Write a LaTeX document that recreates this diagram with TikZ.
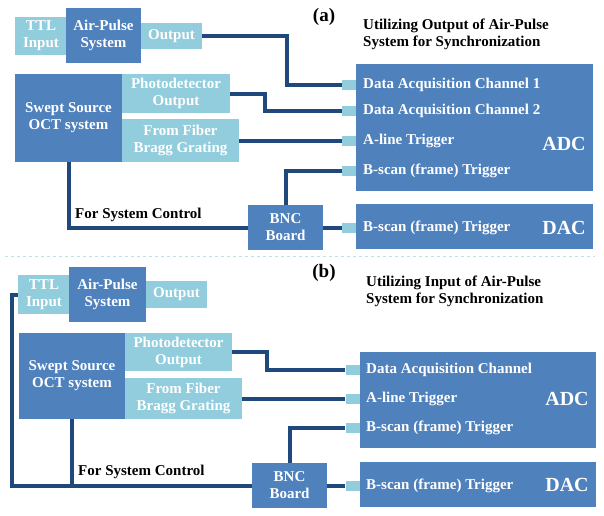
\documentclass[tikz,border=0pt]{standalone}
\usepackage{fontspec}
\setmainfont{Liberation Serif}
\definecolor{darkbox}{RGB}{79,129,189}
\definecolor{lightbox}{RGB}{146,205,221}
\definecolor{wire}{RGB}{31,73,125}
\begin{document}
\begin{tikzpicture}[x=1pt,y=-1pt,line join=miter,
	dark/.style={fill=darkbox,text=white,inner sep=0pt,align=center,font=\fontsize{15}{17}\selectfont\bfseries},
	light/.style={fill=lightbox,text=white,inner sep=0pt,align=center,font=\fontsize{15}{17}\selectfont\bfseries},
	port/.style={fill=lightbox,minimum width=14pt,minimum height=10pt,inner sep=0pt},
	lbl/.style={anchor=west,text=white,inner sep=0pt,font=\fontsize{15}{17}\selectfont\bfseries},
	big/.style={text=white,inner sep=0pt,font=\fontsize{20}{22}\selectfont\bfseries},
	wire/.style={draw=wire,line width=4pt},
	txt/.style={anchor=west,inner sep=0pt,align=left,font=\fontsize{15}{17}\selectfont\bfseries}]
	\useasboundingbox (0,0) rectangle (604,515);
	% (a)
	\node[light,minimum width=52pt,minimum height=38pt] (ttlA) at (41,36) {TTL\\Input};
	\node[dark,minimum width=75pt,minimum height=55pt] (airA) at (103.5,35.5) {Air-Pulse\\System};
	\node[light,minimum width=61pt,minimum height=26pt] (outA) at (171.5,36) {Output};
	\node[dark,minimum width=107pt,minimum height=88pt] (octA) at (68.5,118) {Swept Source\\OCT system};
	\node[light,minimum width=108pt,minimum height=39pt] (pdA) at (176,93.5) {Photodetector\\Output};
	\node[light,minimum width=117pt,minimum height=43pt] (fbgA) at (180.5,140.5) {From Fiber\\Bragg Grating};
	\node[dark,minimum width=75pt,minimum height=45pt] (bncA) at (285.5,227.5) {BNC\\Board};
	\node[dark,minimum width=237pt,minimum height=127pt] (adcA) at (474.5,127.5) {};
	\node[dark,minimum width=237pt,minimum height=45pt] (dacA) at (474.5,226.5) {};
	\node[port] (pA1) at (349,85) {};
	\node[port] (pA2) at (349,111) {};
	\node[port] (pA3) at (349,140.5) {};
	\node[port] (pA4) at (349,171) {};
	\node[port] (pA5) at (349,227.5) {};
	\node[lbl] (lA1) at (363,85) {Data Acquisition Channel 1};
	\node[lbl] (lA2) at (363,111) {Data Acquisition Channel 2};
	\node[lbl] (lA3) at (363,140.5) {A-line Trigger};
	\node[lbl] (lA4) at (363,171) {B-scan (frame) Trigger};
	\node[lbl] (lA5) at (363,227.5) {B-scan (frame) Trigger};
	\node[big] (adcAt) at (564,144) {ADC};
	\node[big] (dacAt) at (564,227.5) {DAC};
	\draw[wire] (outA.east) -- ++(85,0) |- (pA1.west);
	\draw[wire] (pdA.east) -- ++(35,0) |- (pA2.west);
	\draw[wire] (fbgA.east) -- (pA3.west);
	\draw[wire] (octA.south) |- (bncA.west);
	\draw[wire] (bncA.north) |- (pA4.west);
	\draw[wire] (bncA.east) -- (pA5.west);
	\node[txt] (ctlA) at (75,215) {For System Control};
	\node[font=\fontsize{19}{21}\selectfont\bfseries,inner sep=0pt] (tagA) at (324,17) {(a)};
	\node[txt] (titA) at (363,34) {Utilizing Output of Air-Pulse\\System for Synchronization};
	% separator
	\draw[lightbox!60,dashed,line width=1pt] (5,256) -- (595,256);
	% (b)
	\node[light,minimum width=52pt,minimum height=39pt] (ttlB) at (44,294.5) {TTL\\Input};
	\node[dark,minimum width=77pt,minimum height=55pt] (airB) at (107.5,294.5) {Air-Pulse\\System};
	\node[light,minimum width=61pt,minimum height=27pt] (outB) at (176.5,294.5) {Output};
	\node[dark,minimum width=106pt,minimum height=86pt] (octB) at (72,376) {Swept Source\\OCT system};
	\node[light,minimum width=107pt,minimum height=38pt] (pdB) at (178.5,352) {Photodetector\\Output};
	\node[light,minimum width=117pt,minimum height=41pt] (fbgB) at (183.5,398.5) {From Fiber\\Bragg Grating};
	\node[dark,minimum width=75pt,minimum height=45pt] (bncB) at (289.5,485.5) {BNC\\Board};
	\node[dark,minimum width=236pt,minimum height=96pt] (adcB) at (478,400) {};
	\node[dark,minimum width=236pt,minimum height=45pt] (dacB) at (478,484.5) {};
	\node[port] (pB1) at (352.5,370) {};
	\node[port] (pB2) at (352.5,398.5) {};
	\node[port] (pB3) at (352.5,428) {};
	\node[port] (pB4) at (352.5,485.5) {};
	\node[lbl] (lB1) at (366,370) {Data Acquisition Channel};
	\node[lbl] (lB2) at (366,398.5) {A-line Trigger};
	\node[lbl] (lB3) at (366,428) {B-scan (frame) Trigger};
	\node[lbl] (lB4) at (366,485.5) {B-scan (frame) Trigger};
	\node[big] (adcBt) at (567,399) {ADC};
	\node[big] (dacBt) at (567,485) {DAC};
	\draw[wire] (pdB.east) -- ++(35,0) |- (pB1.west);
	\draw[wire] (fbgB.east) -- (pB2.west);
	\draw[wire] (ttlB.west) -- ++(-6,0) |- (bncB.west);
	\draw[wire] (octB.south) -- (octB.south |- bncB.west);
	\draw[wire] (bncB.north) |- (pB3.west);
	\draw[wire] (bncB.east) -- (pB4.west);
	\node[txt] (ctlB) at (78,472) {For System Control};
	\node[font=\fontsize{19}{21}\selectfont\bfseries,inner sep=0pt] (tagB) at (324,273) {(b)};
	\node[txt] (titB) at (366,291) {Utilizing Input of Air-Pulse\\System for Synchronization};
\end{tikzpicture}
\end{document}
